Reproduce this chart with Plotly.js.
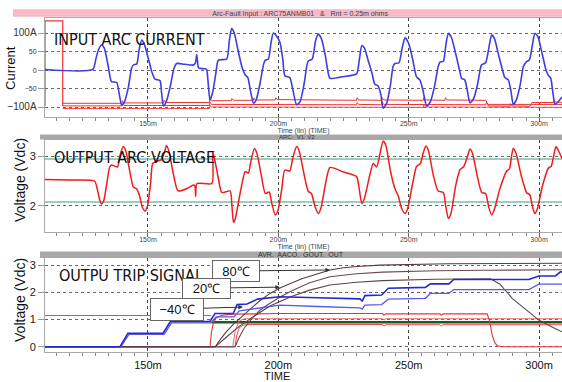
<!DOCTYPE html>
<html><head><meta charset="utf-8">
<script src="https://cdn.plot.ly/plotly-3.0.1.min.js"></script>
<style>html,body{margin:0;padding:0;background:#fff}#chart{width:562px;height:382px}</style>
</head><body><div id="chart"></div>
<script>
// ---------- Panel 1: input arc current (A) ----------
const tCurrent = [110.5,128.8,130,131,132.2,133.2,134.5,135.5,136,138,139,139.9,141,142.5,143.7,144.4,145.7,146.6,147.6,148.6,150,151.5,152.7,154.6,155.2,155.9,157,158.5,160,161,164,167.4,168.2,168.7,169.3,169.7,171.9,172.5,173.2,173.8,174.8,176,177,180.2,181.2,182.1,183.1,184.5,186,187.3,188.3,189.3,190.5,191.5,193,194.3,195,196.2,197.2,198.1,199.3,200.6,201.7,202.5,204.4,205.5,207,208.3,209.8,211,211.5,213,214.3,215.3,216.5,218,219.2,219.8,225,230,231,232,233,234.5,236,237,238.2,239.3,240.2,241.5,243,244,244.7,246.3,247.5,248.6,250,251.5,253,254.3,255.5,256.9,258.3,260,261.3,262,263.3,264.3,265.2,266.4,268,269.5,270.3,271.5,272.5,273.5,274.8,276.5,277.5,278,279.5,281,281.8,282.9,284.5,286,286.9,288.2,289.2,290.1,291.3,292.8,294,295.2,296.3,297.5,298.4,299.6,301,302.7,303.5,304.5,305.3,306.1,307.3,308.8];
const iCurrent = [2,2,30,55,68,60,20,-20,-31,-33,-65,-94,-85,-45,5,14,17,55,81,70,35,-5,-24,-28,-60,-96,-85,-45,5,18,16,14,20,42,8,5,4,2,-45,-80,-60,-10,27,30,80,112,100,55,10,-13,-20,-55,-89,-80,-35,15,27,30,75,100,92,75,30,-15,-20,-50,-93,-85,-40,15,25,30,80,97,85,40,-10,-22,-17,-10,25,66,60,25,-10,-38,-42,-65,-102,-90,-40,10,18,20,60,87,72,30,-18,-26,-55,-97,-85,-40,10,22,24,70,99,88,45,0,-22,-26,-55,-88,-78,-35,5,15,20,70,95,85,40,0,-20,-26,-55,-92,-80,-38,10,23,28,70,99,90,50,0,-13,-22,-60,-92,-85,-72];
// red trip traces in panel 1
const tTripRect = [110.5,110.5,117.3,117.3];
const iTripRect = [-96,133,133,-96];
const tTripA = [117.3,140,140.2,140.8,156,156.2,156.8,173.6,173.8,174.4,182,182.2,182.8,190.4,190.6,191.2,198.8,199,199.6,230,230.2,230.8,239.6,239.8,240.4,255.6,255.8,256.4,263.9,264.1,264.7,279.6,280.6,288.8,289,289.6,296.5,297.3,305.5,305.7,306.3,308.8];
const iTripA = [-89,-89,-82,-88,-88,-81,-87,-87,-76,-82,-82,-76,-81,-81,-75,-80,-80,-74,-79,-81,-74,-80,-81,-74,-80,-81,-74,-80,-81,-74,-80,-81,-96,-97,-90,-96,-97,-87,-87,-80,-86,-86];
const tTripB = [117.3,140,140.2,140.8,173.6,173.8,174.4,230,230.2,230.8,239.6,239.8,240.4,279.6,279.8,280.4,308.8];
const iTripB = [-96,-96,-90,-95,-95,-86,-92,-93,-87,-92,-93,-86,-92,-93,-87,-92,-92];
const tTripC = [117.3,173.6,173.8,174.4,255.6,255.8,256.4,308.8];
const iTripC = [-103,-103,-95,-99,-100,-94,-99,-100];

// ---------- Panel 2: output arc voltage (Vdc) ----------
const tVoltage = [110.5,120,129.5,130.5,131.5,132.2,133,134.2,135.3,136,138.3,139.2,140.5,141.5,143,144.4,145.7,146.8,147.8,148.9,149.8,151,151.8,153.5,155,156.2,157.1,158,159.5,161,161.6,165,167.4,168,168.3,168.8,174.5,174.8,175.5,177,178.3,181.5,182.2,182.8,183.5,185.5,187.3,188.5,189.5,190.8,191.8,193.5,195,196.5,197.5,198.8,199.8,201.2,202.5,204.4,205.5,207,208,209.8,211.5,212.7,214,215.3,216.3,218.3,219.8,225,230,231,232,233,235,236.4,237.7,239,240.2,241.3,243,244.7,246,247.3,248.6,249.6,251.5,253,254.5,255.5,256.6,257.6,259.5,261.3,263.3,264.2,265.2,266.2,268,269.7,271,272.3,273.5,274.5,276.3,278,279.5,280.7,281.8,282.8,285,287.6,288.7,289.3,290.1,291.2,293.2,295.2,296.5,297.5,298.4,299.4,301.3,303.5,304.7,305.6,306.5,307.5,308.8];
const vVoltage = [2.53,2.52,2.5,2.35,2.12,2.04,2.1,2.45,2.78,2.82,2.78,3.0,3.19,3.1,2.7,2.38,2.34,2.2,1.98,1.9,2.0,2.45,2.85,2.9,2.92,3.05,3.21,3.1,2.7,2.35,2.3,2.35,2.42,2.4,2.19,2.45,2.45,3.09,2.95,2.55,2.27,2.3,2.0,1.67,1.75,2.3,2.69,2.66,2.9,3.15,3.05,2.6,2.25,2.28,2.05,1.82,1.9,2.3,2.72,2.7,2.95,3.19,3.1,2.65,2.29,2.25,2.0,1.85,1.95,2.5,2.77,2.68,2.59,2.35,2.05,2.15,2.6,2.85,2.78,3.05,3.3,3.2,2.7,2.35,2.2,1.95,1.85,1.95,2.45,2.79,2.85,3.05,3.2,3.1,2.6,2.3,2.27,2.0,1.75,1.85,2.4,2.73,2.78,2.95,3.14,3.05,2.6,2.27,2.25,1.98,1.82,1.92,2.35,2.7,2.75,2.95,3.15,3.05,2.6,2.27,2.22,1.98,1.85,1.95,2.4,2.75,2.8,3.0,3.19,3.1,2.95];
const tRefLines = [110.5,308.8];
const vRefHigh = [2.94,2.94];
const vRefLow = [2.08,2.08];

// ---------- Panel 3: output trip signal (Vdc) ----------
const tBlueUpper = [110.5,139.2,142.3,155.8,158.6,173.8,175.7,182.7,184.2,188,192,196,200.6,215,231.3,232.2,233.2,239.6,242.2,256.4,258.3,265.4,267.3,296.1,299.9,306.3,308.2,308.8];
const vBlueUpper = [0,0,0.5,0.5,0.93,0.93,1.22,1.22,1.55,1.57,1.75,1.8,1.84,1.8,1.76,1.68,1.88,1.9,2.15,2.18,2.31,2.31,2.47,2.47,2.6,2.6,2.75,2.75];
const tBlueLower = [110.5,139.6,142.7,156.2,159,174.2,176.1,183,185,190,196,200.6,215,231.3,232.2,233.2,239.6,242.2,256.4,258.3,265.4,267.3,296.1,299.9,308.8];
const vBlueLower = [0,0,0.46,0.46,0.88,0.88,1.1,1.1,1.32,1.38,1.48,1.53,1.48,1.43,1.38,1.53,1.55,1.75,1.78,1.96,1.96,2.1,2.1,2.3,2.3];
const tBrownTop = [110.5,175.8,178,180,183,186,190,193,196.8,201,205,209,213,219.8,225,230,239,250,265,308.8];
const vBrownTop = [0,0,0.3,0.55,0.85,1.12,1.45,1.7,1.96,2.18,2.35,2.5,2.62,2.82,2.9,2.95,3.0,3.03,3.05,3.07];
const tBrownMid = [110.5,183.4,185,187,190,193,196.8,201,205,212,219.8,230,240,260,280,308.8];
const vBrownMid = [0,0,0.35,0.7,1.05,1.35,1.6,1.85,2.05,2.35,2.57,2.68,2.74,2.79,2.81,2.83];
const tBrownLow = [110.5,175.8,180,185,190,196.8,205,212,219.8,230,240,260,281.4,285,289.7,295,299.9,305,308.8];
const vBrownLow = [0,0,0.35,0.75,1.08,1.5,1.85,2.08,2.27,2.37,2.43,2.48,2.5,2.3,1.78,1.35,0.98,0.73,0.55];
const tRedHigh = [110.5,173.8,174.3,175,176,178,182,200,240,240.5,241.2,262,262.5,263.2,280.1,281,282,283,284,286,308.8];
const vRedHigh = [0,0,0.5,0.85,1.05,1.15,1.2,1.22,1.22,1.16,1.21,1.21,1.16,1.21,1.21,0.95,0.45,0.15,0.04,0,0];
const tRedMid = [110.5,182.5,183.5,185,187,240,240.5,241.2,308.8];
const vRedMid = [0,0,0.6,0.95,1.03,1.03,0.98,1.03,1.03];
const tRedLow = [110.5,183.4,184,185,186.5,190,240,240.5,241.2,262,262.5,263.2,308.8];
const vRedLow = [0,0,0.4,0.7,0.8,0.82,0.82,0.76,0.81,0.81,0.76,0.81,0.81];
const tTeal = [110.5,174.2];
const vTeal = [1.15,1.15];
const tGreen = [174.5,308.8];
const vGreen = [0.9,0.9];

// labels
const xTickSuffix = 'm';
const currentTickVals = [-100,-50,0,50,100];
const currentTickText = ['<span style="font-size:10px">\u2212100A</span>','\u221250','0','50','<span style="font-size:10px">100A</span>'];
const tempLabels = ['80\u2103','20\u2103','\u221240\u2103'];
const tempPointT = [219.8,200.6,186.4];
const tempPointV = [2.82,2.19,1.46];

const F = '"Liberation Sans", Arial, sans-serif';
const NARROW = '"DejaVu Sans Condensed", "Liberation Sans Narrow", sans-serif';
const XR = [110.5,308.8];

function ln(x,y,xa,ya,color,width,extra){ return Object.assign({x:x,y:y,xaxis:xa,yaxis:ya,type:'scatter',mode:'lines',line:{color:color,width:width},hoverinfo:'skip',showlegend:false},extra||{}); }

const data = [
  ln(tTripRect,iTripRect,'x','y','#f03030',1.2),
  ln(tTripC,iTripC,'x','y','#f05050',1),
  ln(tTripB,iTripB,'x','y','#f03030',1),
  ln(tTripA,iTripA,'x','y','#f03030',1),
  ln(tCurrent,iCurrent,'x','y','#3d3de0',1.6,{line:{color:'#3d3de0',width:1.6,shape:'spline',smoothing:0.6}}),
  ln(tRefLines,vRefHigh,'x2','y2','#3c9c80',1.2),
  ln(tRefLines,vRefLow,'x2','y2','#3c9c80',1.2),
  ln(tVoltage,vVoltage,'x2','y2','#ee1c1c',1.5,{line:{color:'#ee1c1c',width:1.5,shape:'spline',smoothing:0.6}}),
  ln(tTeal,vTeal,'x3','y3','#3a9a8a',1.2),
  ln(tGreen,vGreen,'x3','y3','#1e5a24',2.6),
  ln(tRedLow,vRedLow,'x3','y3','#ee4444',1),
  ln(tRedMid,vRedMid,'x3','y3','#e86a6a',1),
  ln(tRedHigh,vRedHigh,'x3','y3','#ee3333',1.1),
  ln(tBrownLow,vBrownLow,'x3','y3','#5e4444',1.1),
  ln(tBrownMid,vBrownMid,'x3','y3','#6a4a50',1.1),
  ln(tBrownTop,vBrownTop,'x3','y3','#5a3a44',1.1),
  ln(tBlueLower,vBlueLower,'x3','y3','#5a5ae8',1.3),
  ln(tBlueUpper,vBlueUpper,'x3','y3','#2828d0',1.6)
];

function xax(anchor,small){
  return {anchor:anchor,range:XR,tickmode:'linear',tick0:0,dtick:50,ticksuffix:xTickSuffix,
    showgrid:true,gridcolor:'#444',griddash:'dot',gridwidth:1,zeroline:false,
    showline:true,linecolor:'#aaa',mirror:true,ticks:'outside',ticklen:4,tickcolor:'#666',
    ticklabelstandoff:small?-4:-1,
    minor:{dtick:5,ticks:'outside',ticklen:3,tickcolor:'#888',showgrid:false},
    tickfont:{family:F,size:small?7:11,color:small?'#444':'#111'}};
}
function yax(domain,range,extra){
  return Object.assign({domain:domain,range:range,showgrid:true,gridcolor:'#666',griddash:'dot',gridwidth:1,
    zeroline:false,showline:true,linecolor:'#aaa',mirror:true,ticks:'outside',ticklen:6,tickcolor:'#999',
    tickfont:{family:F,size:11,color:'#222'}},extra);
}

const layout = {
  width:562,height:382,margin:{l:45,r:0,t:0,b:0},
  paper_bgcolor:'#fff',plot_bgcolor:'#fff',showlegend:false,hovermode:false,
  title:{text:'Arc-Fault Input : ARC75ANMB01   &   Rnt = 0.25m ohms',font:{family:F,size:7,color:'#444'},x:0.534,xanchor:'center',y:0.965,yanchor:'middle'},
  xaxis:Object.assign(xax('y',true),{title:{text:'Time (lin) (TIME)',font:{family:F,size:7,color:'#444'},standoff:0}}),
  xaxis2:Object.assign(xax('y2',true),{title:{text:'Time (lin) (TIME)',font:{family:F,size:7,color:'#444'},standoff:0}}),
  xaxis3:xax('y3',false),
  yaxis:yax([0.695,0.9521],[-124.6,139.7],{tickmode:'array',tickvals:currentTickVals,ticktext:currentTickText,tickfont:{family:F,size:7,color:'#333'}}),
  yaxis2:yax([0.3919,0.6335],[1.474,3.32],{tickmode:'linear',tick0:0,dtick:1}),
  yaxis3:yax([0.0793,0.3246],[-0.18,3.26],{tickmode:'linear',tick0:0,dtick:1}),
  shapes:[
    {type:'rect',xref:'paper',yref:'paper',x0:-0.062,x1:1.0,y0:0.9563,y1:0.9757,fillcolor:'#f7b8c8',line:{width:0},layer:'below'},
    {type:'rect',xref:'paper',yref:'paper',x0:-0.0097,x1:1.0,y0:0.6348,y1:0.6479,fillcolor:'#a8a8a8',line:{width:0},layer:'below'},
    {type:'rect',xref:'paper',yref:'paper',x0:-0.0097,x1:1.0,y0:0.3246,y1:0.3413,fillcolor:'#a8a8a8',line:{width:0},layer:'below'}
  ],
  annotations:[
    {text:'INPUT ARC CURRENT',xref:'paper',yref:'paper',x:0.0135,y:0.8953,xanchor:'left',yanchor:'middle',showarrow:false,font:{family:NARROW,size:16,color:'#111'}},
    {text:'OUTPUT ARC VOLTAGE',xref:'paper',yref:'paper',x:0.0135,y:0.5877,xanchor:'left',yanchor:'middle',showarrow:false,font:{family:NARROW,size:16,color:'#111'}},
    {text:'OUTPU TRIP SIGNAL',xref:'paper',yref:'paper',x:0.0232,y:0.2801,xanchor:'left',yanchor:'middle',showarrow:false,font:{family:NARROW,size:16,color:'#111'}},
    {text:'Current',xref:'paper',yref:'paper',x:-0.0658,y:0.822,xanchor:'center',yanchor:'middle',textangle:-90,showarrow:false,font:{family:F,size:13,color:'#111'}},
    {text:'Voltage (Vdc)',xref:'paper',yref:'paper',x:-0.0484,y:0.5288,xanchor:'center',yanchor:'middle',textangle:-90,showarrow:false,font:{family:F,size:14,color:'#111'}},
    {text:'Voltage (Vdc)',xref:'paper',yref:'paper',x:-0.0484,y:0.2147,xanchor:'center',yanchor:'middle',textangle:-90,showarrow:false,font:{family:F,size:14,color:'#111'}},
    {text:'TIME',xref:'paper',yref:'paper',x:0.4487,y:0.0157,xanchor:'center',yanchor:'middle',showarrow:false,font:{family:F,size:11,color:'#111'}},
    {text:'ARC:  V1: V2',xref:'paper',yref:'paper',x:0.4487,y:0.6414,xanchor:'left',yanchor:'middle',showarrow:false,font:{family:F,size:6,color:'#333'}},
    {text:'AVR.  AACO.  GOUT.  OUT',xref:'paper',yref:'paper',x:0.408,y:0.3325,xanchor:'left',yanchor:'middle',showarrow:false,font:{family:F,size:7,color:'#333'}},
    {text:tempLabels[0],xref:'x3',yref:'y3',x:tempPointT[0],y:tempPointV[0],ax:-94,ay:1,showarrow:true,arrowhead:2,arrowsize:0.9,arrowwidth:1,arrowcolor:'#333',bordercolor:'#666',borderwidth:1,bgcolor:'#fff',width:44,height:18,font:{family:F,size:13,color:'#111'}},
    {text:tempLabels[1],xref:'x3',yref:'y3',x:tempPointT[1],y:tempPointV[1],ax:-73,ay:1,showarrow:true,arrowhead:2,arrowsize:0.9,arrowwidth:1,arrowcolor:'#333',bordercolor:'#666',borderwidth:1,bgcolor:'#fff',width:45,height:17,font:{family:F,size:13,color:'#111'}},
    {text:tempLabels[2],xref:'x3',yref:'y3',x:tempPointT[2],y:tempPointV[2],ax:-66,ay:2,showarrow:true,arrowhead:2,arrowsize:0.9,arrowwidth:1,arrowcolor:'#333',bordercolor:'#666',borderwidth:1,bgcolor:'#fff',width:50,height:19,font:{family:F,size:13,color:'#111'}}
  ]
};

Plotly.newPlot('chart',data,layout,{displayModeBar:false,staticPlot:true});
</script></body></html>
